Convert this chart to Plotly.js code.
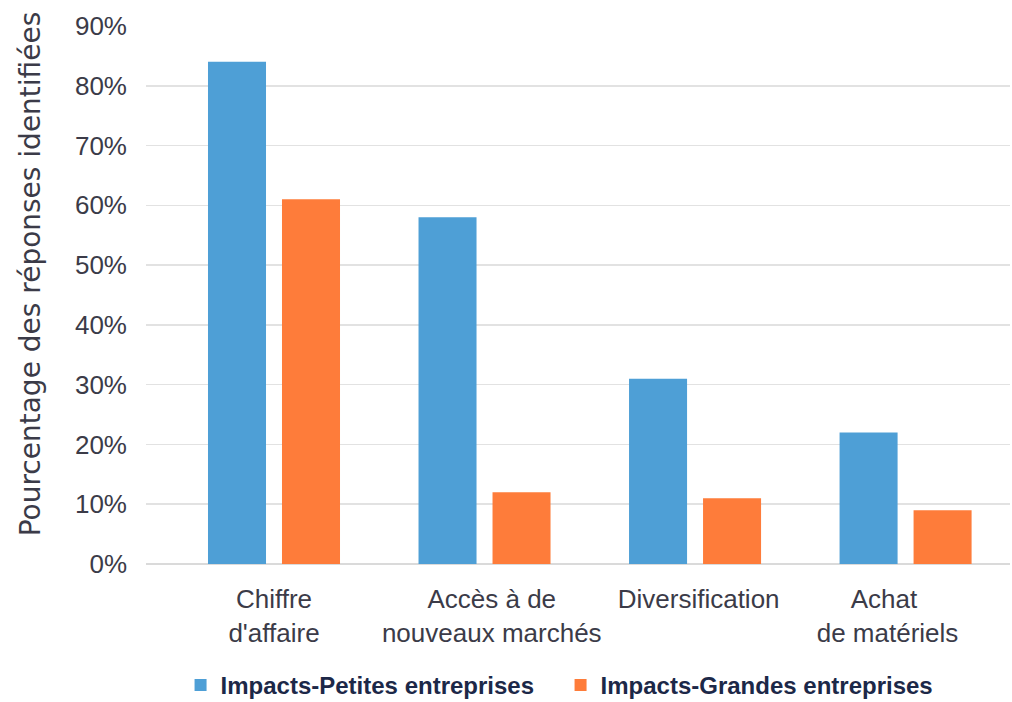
<!DOCTYPE html>
<html>
<head>
<meta charset="utf-8">
<script src="https://cdn.plot.ly/plotly-3.0.1.min.js"></script>
<style>html,body{margin:0;padding:0;background:#fff;}#chart{width:1012px;height:702px;}</style>
</head>
<body>
<div id="chart"></div>
<script>
const categories = ["Chiffre d'affaire", "Accès à de nouveaux marchés", "Diversification", "Achat de matériels"];
const tickLabels = ["Chiffre<br>d'affaire",
                    "\u00a0\u00a0Accès à de<br>\u00a0\u00a0nouveaux marchés",
                    "\u00a0Diversification<br> ",
                    "Achat\u00a0\u00a0\u00a0\u00a0\u00a0\u00a0<br>de matériels\u00a0\u00a0\u00a0\u00a0\u00a0"];
const seriesNames = ["Impacts-Petites entreprises", "Impacts-Grandes entreprises"];
const petites = [84, 58, 31, 22];
const grandes = [61, 12, 11, 9];
const yTickVals = [0, 10, 20, 30, 40, 50, 60, 70, 80, 90];
const yTickText = ["0%", "10%", "20%", "30%", "40%", "50%", "60%", "70%", "80%", "90%"];
const yTitle = "Pourcentage des réponses identifiées";

const traces = [
  {type: 'bar', name: seriesNames[0], x: categories, y: petites, marker: {color: '#4e9fd6'}, hoverinfo: 'none'},
  {type: 'bar', name: seriesNames[1], x: categories, y: grandes, marker: {color: '#fe7c3a'}, hoverinfo: 'none'}
];

const layout = {
  width: 1012, height: 702,
  margin: {l: 146, r: 2, t: 26, b: 137.5, autoexpand: false},
  paper_bgcolor: '#ffffff', plot_bgcolor: '#ffffff',
  font: {family: 'Liberation Sans', color: '#3b3b48'},
  barmode: 'group', bargap: 0.297, bargroupgap: 0.216,
  showlegend: true,
  legend: {orientation: 'h', x: 0.04, xanchor: 'left', y: -0.2256, yanchor: 'middle',
           font: {family: 'Liberation Sans', size: 24, weight: 'bold', color: '#1c2848'},
           itemwidth: 30, entrywidth: 335, traceorder: 'normal'},
  xaxis: {type: 'category', range: [-0.608, 3.496], showgrid: false, zeroline: false, showline: false,
          tickmode: 'array', tickvals: categories, ticktext: tickLabels, automargin: false,
          tickfont: {family: 'Liberation Sans', size: 26, color: '#3b3b48'}, ticklabelstandoff: 17, fixedrange: true},
  yaxis: {range: [0, 90], tickvals: yTickVals, ticktext: yTickText, showgrid: true, gridcolor: '#e2e2e2', gridwidth: 1.5,
          zeroline: true, zerolinecolor: '#dadada', zerolinewidth: 2, showline: false, automargin: false,
          tickfont: {family: 'Liberation Sans', size: 26, color: '#3b3b48'}, ticklabelstandoff: 18,
          title: {text: '<span style="color:rgba(0,0,0,0)">___</span>' + yTitle,
                  font: {family: 'DejaVu Sans', size: 28, color: '#3b3b48'}, standoff: 26}, fixedrange: true}
};

Plotly.newPlot('chart', traces, layout, {displayModeBar: false, staticPlot: true});
</script>
</body>
</html>
